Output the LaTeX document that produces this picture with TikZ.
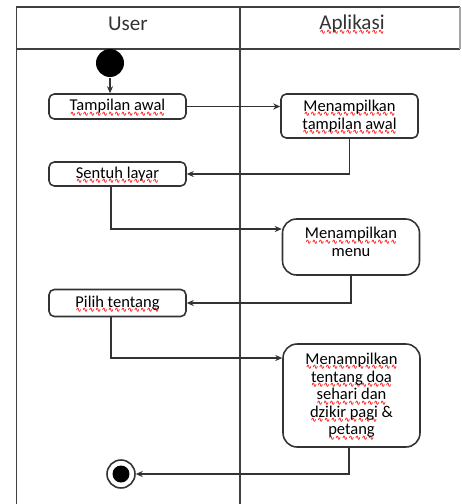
\documentclass[tikz,border=0pt]{standalone}
\usepackage{fontspec}
\setmainfont{Carlito}
\newfontfamily\wavefont{DejaVu Sans}
\usetikzlibrary{arrows.meta}
\newcommand{\sq}[1]{\setbox0=\hbox{#1}\leavevmode\rlap{\raisebox{-3pt}[0pt][0pt]{\color{red}%
        \hbox to \wd0{\wavefont\bfseries\fontsize{4.2}{4.2}\selectfont\xleaders\hbox{∿}\hfill}}}\box0\relax}

\begin{document}
\begin{tikzpicture}[x=0.02cm, y=-0.02cm, line width=0.7pt,
        lane/.style={draw=black!75, line width=0.8pt},
        act/.style={draw=black!80, line width=0.9pt, rounded corners=3pt, minimum width=2.74cm,
                inner sep=1pt, align=center, font=\fontsize{9.4}{10}\selectfont},
        bigact/.style={act, rounded corners=8pt},
        title/.style={font=\fontsize{12}{14}\selectfont, text=black!80},
        arr/.style={draw=black!80, -{Stealth[length=4pt,width=3.5pt]}}]
                \useasboundingbox (0, 0) rectangle (461, 504);
                % swimlanes
                \draw[lane] (16.5, 504) -- (16.5, 7) -- (460, 7);
                \draw[lane] (16.5, 49) -- (460, 49);
                \draw[lane] (240, 7) -- (240, 504);
                \draw[lane, black!35] (460, 7) -- (460, 49);
                \node[title] (user) at (128, 24) {User};
                \node[title] (app) at (352, 24) {\sq{Aplikasi}};
                % activities
                \node[circle, fill=black, minimum size=0.56cm, inner sep=0pt] (start) at (110, 63) {};
                \node[act, minimum height=0.5cm] (tampil) at (117.5, 106.5) {\sq{Tampilan awal}};
                \node[act, minimum height=0.88cm] (tampilApp) at (349.5, 116) {\sq{Menampilkan}\\\sq{tampilan awal}};
                \node[act, minimum height=0.48cm] (sentuh) at (117.5, 174) {\sq{Sentuh layar}};
                \node[bigact, minimum height=1.12cm] (menu) at (351, 247) {\sq{Menampilkan}\\menu\\[-4.3pt]};
                \node[act, minimum height=0.54cm] (pilih) at (117.5, 303) {\sq{Pilih tentang}};
                \node[bigact, minimum height=2.06cm] (tentang) at (351.5, 395.5)
                        {\sq{Menampilkan}\\\sq{tentang doa}\\\sq{sehari dan}\\\sq{dzikir pagi} \&\\\sq{petang}};
                \node[circle, draw=black!80, line width=0.9pt, minimum size=0.56cm, inner sep=0pt] (end) at (121, 474) {};
                \fill (end) circle (0.17cm);
                % flows
                \draw[arr] (start) -- (start |- tampil.north);
                \draw[arr] (tampil.east) -- (tampil.east -| tampilApp.west);
                \draw[arr] (tampilApp.south) |- (sentuh.east);
                \draw[arr] ([xshift=-0.13cm]sentuh.south) |- ([yshift=0.36cm]menu.west);
                \draw[arr] (menu.south) |- (pilih.east);
                \draw[arr] ([xshift=-0.13cm]pilih.south) |- ([yshift=0.75cm]tentang.west);
                \draw[arr] ([xshift=-0.05cm]tentang.south) |- (end.east);
        \end{tikzpicture}
\end{document}
